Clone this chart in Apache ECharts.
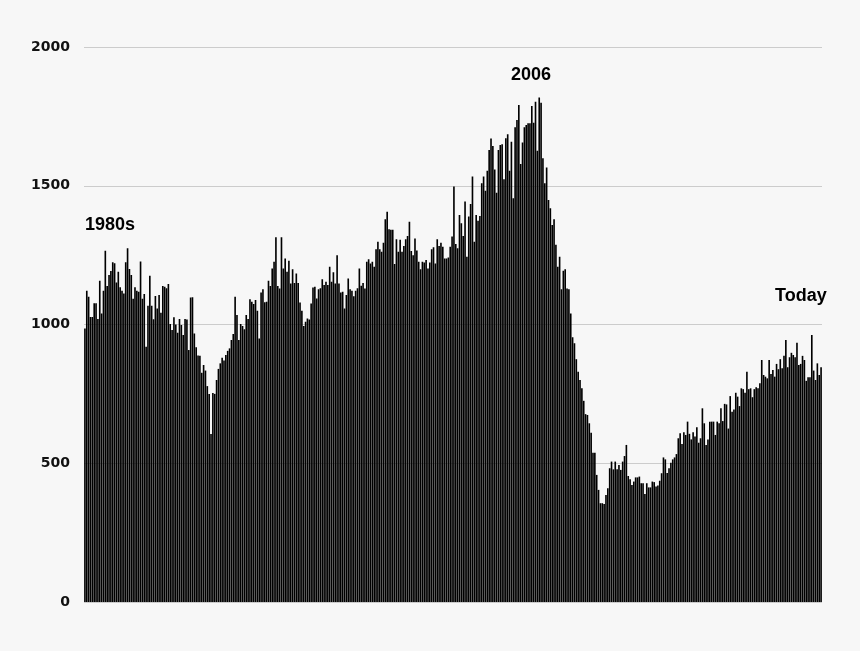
<!DOCTYPE html>
<html>
<head>
<meta charset="utf-8">
<script src="https://cdn.jsdelivr.net/npm/echarts@6/dist/echarts.min.js"></script>
<style>
html,body{margin:0;padding:0;background:#f7f7f7;}
#chart{width:860px;height:651px;}
</style>
</head>
<body>
<div id="chart"></div>
<script>
// Monthly values (thousands, annual rate), split by era
var mid1980s = [986, 1122, 1100, 1027, 1027, 1077, 1077, 1020, 1158, 1040, 1122, 1266, 1139, 1178, 1193, 1224, 1221, 1151, 1190, 1134, 1122, 1112, 1224, 1275, 1200, 1178, 1093, 1134, 1122, 1118, 1227, 1093, 1110, 920];
var late1980s = [1068, 1176, 1068, 1019, 1103, 1058, 1106, 1042, 1139, 1136, 1131, 1146, 1002, 980, 1026, 1000, 970, 1020, 998, 962, 1020, 1018, 908, 1097, 1098, 968, 918, 888, 887, 826, 854, 834, 778, 750, 605, 753, 750];
var early1990s = [800, 840, 860, 880, 870, 890, 905, 914, 944, 966, 1100, 1034, 944, 1002, 995, 983, 1034, 1020, 1091, 1082, 1074, 1088, 1050, 950, 1115, 1127, 1080, 1082, 1158, 1139, 1202, 1226, 1314, 1139, 1130, 1314, 1202, 1238];
var mid1990s = [1190, 1230, 1148, 1199, 1150, 1184, 1150, 1079, 1050, 995, 1010, 1022, 1018, 1076, 1133, 1136, 1094, 1127, 1131, 1163, 1142, 1154, 1142, 1208, 1154, 1188, 1148, 1250, 1148, 1115, 1118, 1058, 1106, 1166, 1127, 1122, 1102, 1122, 1131];
var late1990s = [1202, 1140, 1150, 1130, 1226, 1235, 1220, 1226, 1208, 1271, 1298, 1271, 1262, 1295, 1379, 1406, 1343, 1341, 1341, 1218, 1307, 1262, 1305, 1262, 1283, 1307, 1319, 1370, 1265, 1250, 1310, 1267, 1226, 1199, 1226, 1223];
var early2000s = [1232, 1202, 1223, 1271, 1278, 1220, 1307, 1283, 1295, 1280, 1238, 1238, 1241, 1280, 1317, 1497, 1290, 1275, 1395, 1365, 1319, 1443, 1244, 1389, 1434, 1533, 1298, 1395, 1374, 1391, 1509, 1533, 1482, 1554, 1629, 1670];
var boomYears = [1643, 1559, 1475, 1629, 1647, 1650, 1523, 1671, 1686, 1554, 1659, 1455, 1711, 1737, 1791, 1578, 1656, 1711, 1719, 1725, 1725, 1787, 1727, 1803, 1626, 1818, 1799, 1599, 1509, 1566, 1449, 1419, 1359, 1379, 1287, 1208, 1244, 1127];
var bustYears = [1194, 1199, 1130, 1127, 1040, 954, 932, 875, 830, 800, 770, 725, 677, 674, 644, 610, 538, 538, 458, 404, 356, 356, 353, 386, 410, 482, 506, 478, 506, 478, 494, 476, 506, 526, 566];
var early2010s = [454, 442, 422, 434, 449, 449, 452, 428, 428, 389, 428, 413, 413, 434, 432, 416, 420, 437, 464, 521, 514, 465, 482, 502, 514, 521, 533, 590, 608, 569, 612, 602, 650, 606, 586, 612];
var mid2010s = [596, 630, 574, 590, 698, 644, 566, 586, 650, 650, 650, 602, 650, 644, 698, 652, 714, 712, 625, 742, 686, 694, 754, 740, 706, 770, 767, 754, 830, 767, 770, 738, 767, 774, 770];
var late2010s = [788, 872, 818, 812, 806, 872, 822, 836, 812, 858, 839, 875, 842, 887, 944, 846, 882, 898, 890, 882, 934, 854, 858, 887, 872, 797, 810, 810, 962, 834, 800, 860, 818, 846];

var yTicks = [0, 500, 1000, 1500, 2000];
var annotations = ['1980s', '2006', 'Today'];

var values = [].concat(mid1980s, late1980s, early1990s, mid1990s, late1990s, early2000s, boomYears, bustYears, early2010s, mid2010s, late2010s);
var categories = values.map(function (v, i) { return String(i); });

var chart = echarts.init(document.getElementById('chart'), null, {renderer: 'canvas'});
chart.setOption({
  backgroundColor: '#f7f7f7',
  animation: false,
  grid: {left: 84, right: 38, top: 47, bottom: 49},
  xAxis: {
    type: 'category',
    data: categories,
    axisLine: {show: false},
    axisTick: {show: false},
    axisLabel: {show: false},
    splitLine: {show: false}
  },
  yAxis: {
    type: 'value',
    min: yTicks[0],
    max: yTicks[yTicks.length - 1],
    interval: 500,
    axisLine: {show: false},
    axisTick: {show: false},
    axisLabel: {
      margin: 14,
      color: '#111',
      fontFamily: 'DejaVu Sans',
      fontWeight: 'bold',
      fontSize: 14,
      formatter: function (v) { return String(v); }
    },
    splitLine: {lineStyle: {color: '#cccccc', width: 1}}
  },
  series: [{
    type: 'bar',
    data: values,
    barCategoryGap: '12%',
    itemStyle: {color: '#000'}
  }],
  graphic: [
    {type: 'text', left: 85, top: 216, style: {text: annotations[0], font: 'bold 18px "Liberation Sans", Arial, sans-serif', fill: '#000'}},
    {type: 'text', left: 511, top: 66, style: {text: annotations[1], font: 'bold 18px "Liberation Sans", Arial, sans-serif', fill: '#000'}},
    {type: 'text', left: 775, top: 287, style: {text: annotations[2], font: 'bold 18px "Liberation Sans", Arial, sans-serif', fill: '#000'}}
  ]
});
</script>
</body>
</html>
